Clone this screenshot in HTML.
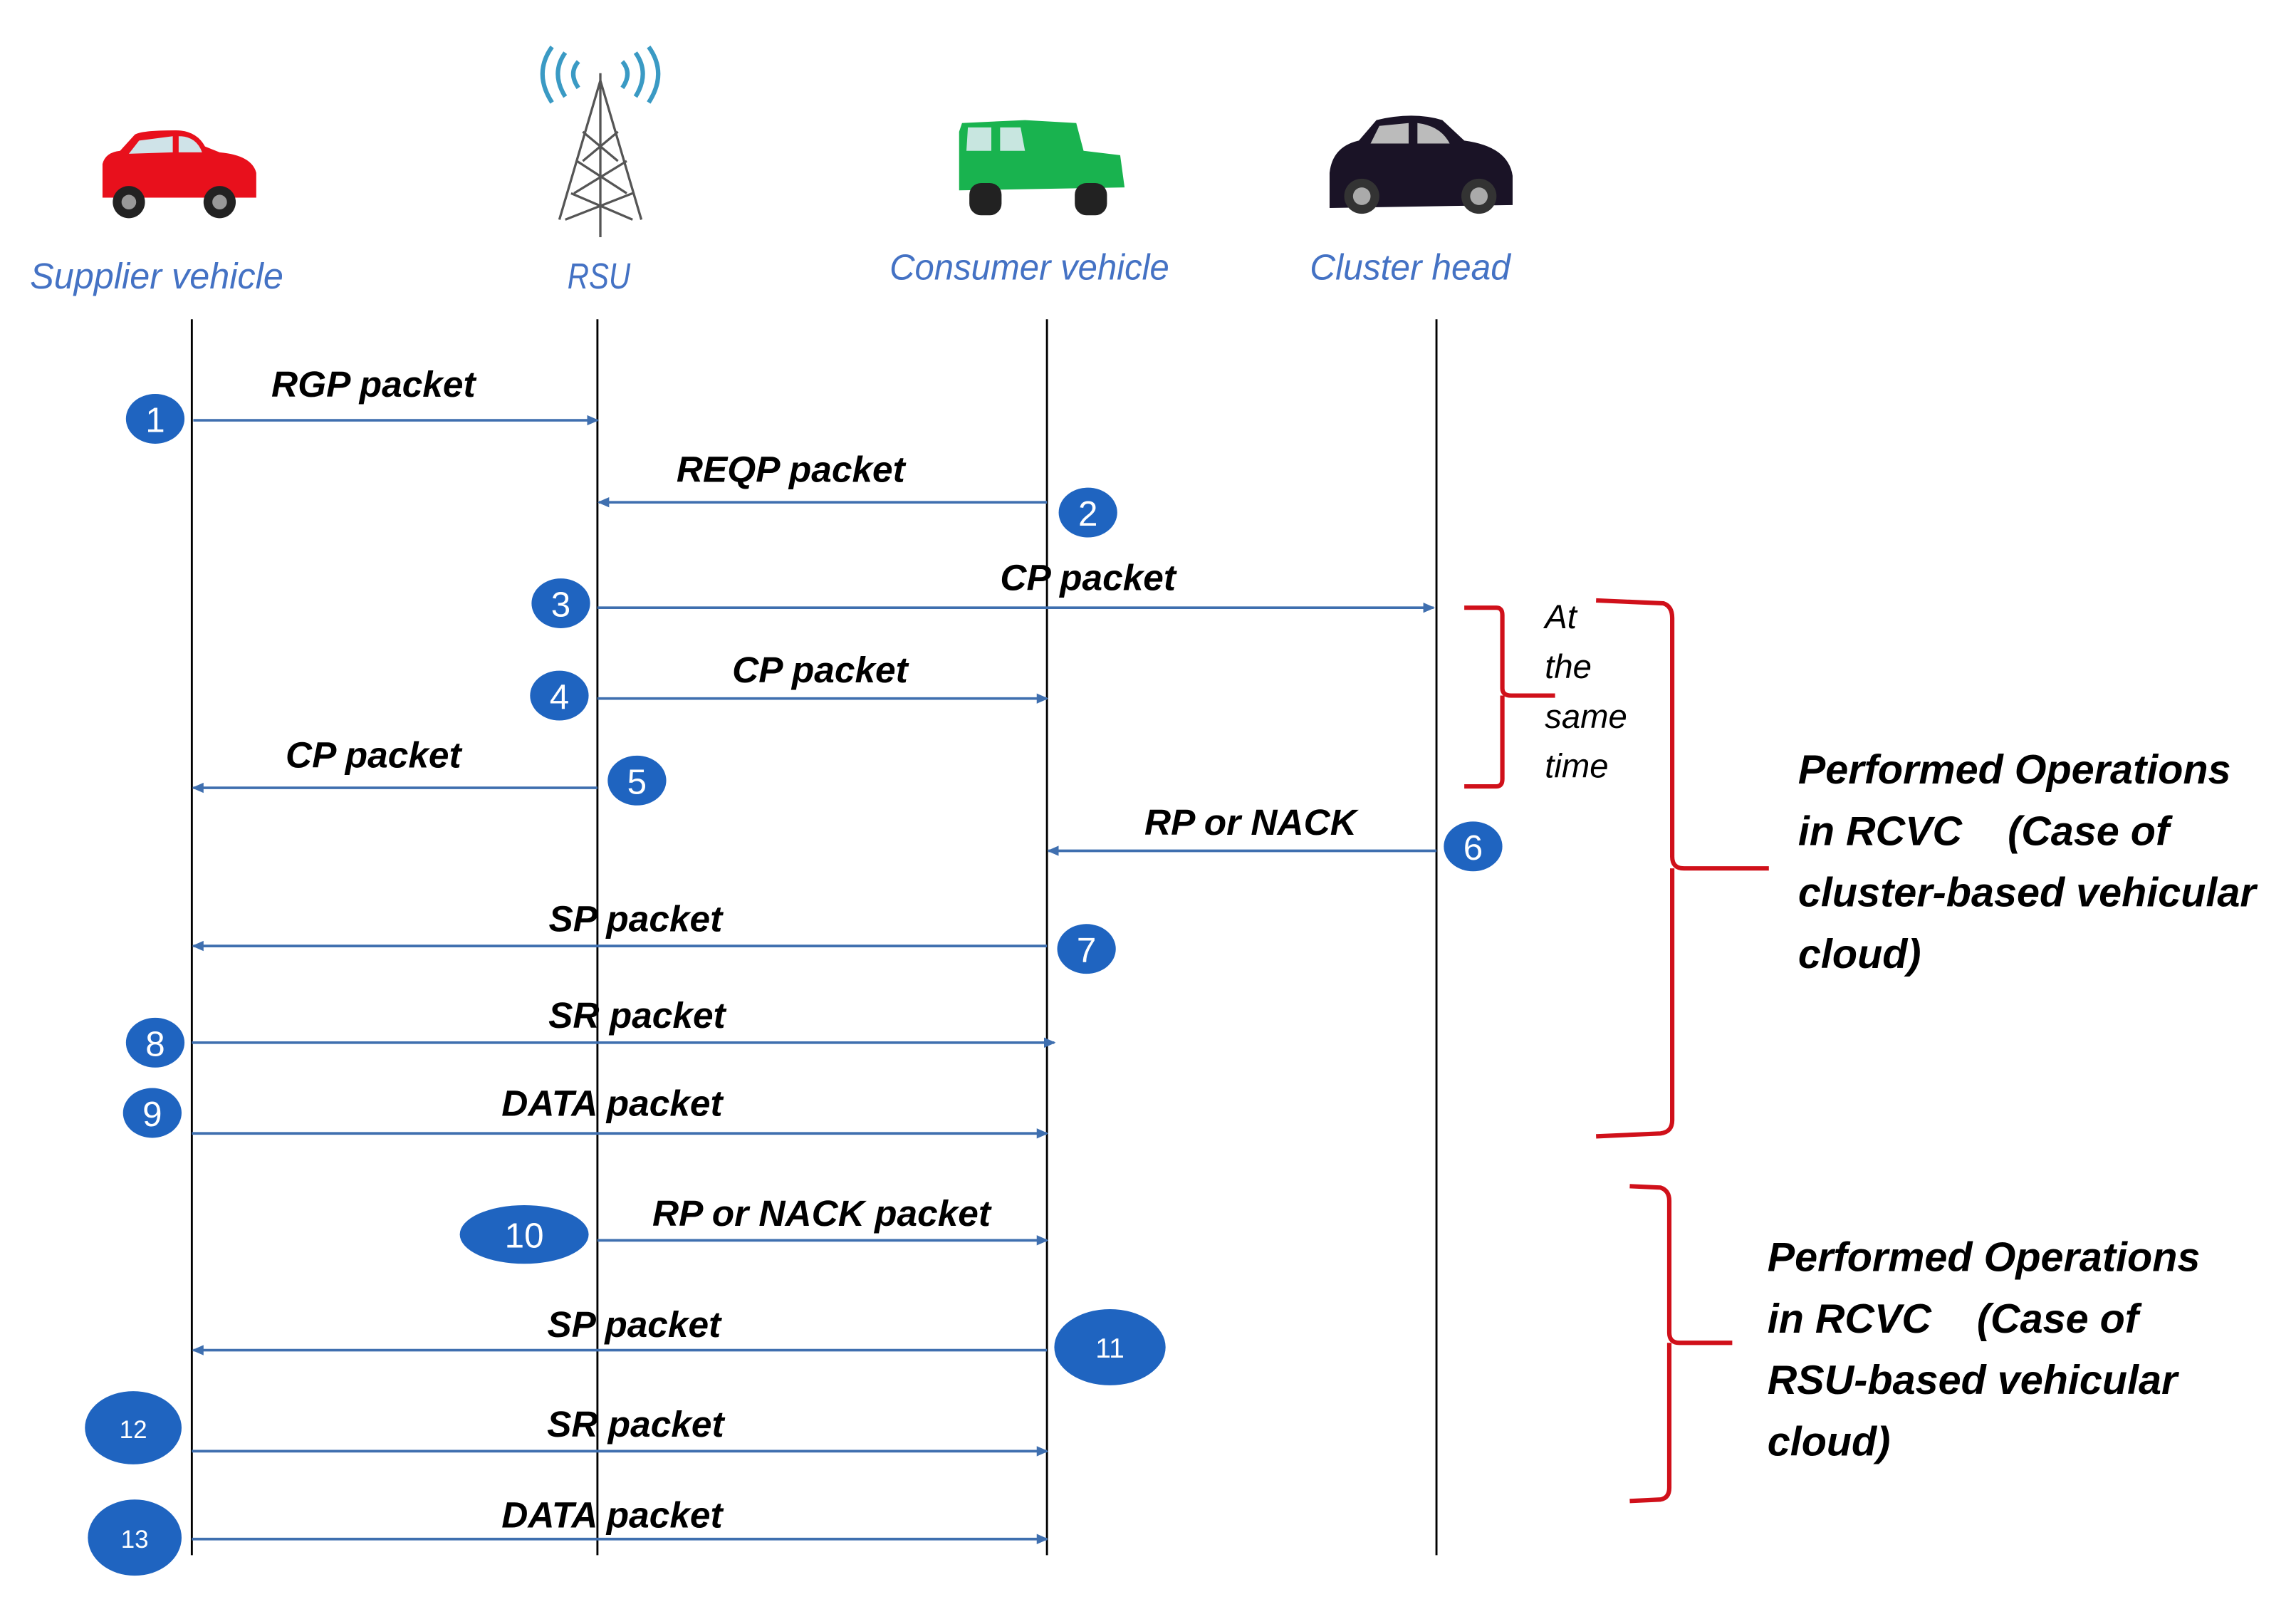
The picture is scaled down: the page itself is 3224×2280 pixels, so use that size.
<!DOCTYPE html>
<html><head><meta charset="utf-8"><style>
html,body{margin:0;padding:0;background:#fff;}
#w{width:3224px;height:2280px;overflow:hidden;position:relative;}
svg{position:absolute;left:0;top:0;}
text{font-family:"Liberation Sans Narrow","Liberation Sans",sans-serif;}
</style></head><body><div id="w">
<svg width="3224" height="2280" viewBox="0 0 1568 1109" preserveAspectRatio="none">
<defs>
<marker id="a" markerWidth="8" markerHeight="8" refX="7" refY="4" orient="auto" markerUnits="userSpaceOnUse"><path d="M0,0.5 L8,4 L0,7.5z" fill="#3f6faf"/></marker>
</defs>
<g>
<path d="M70,130 L70,112 Q72,104 82,103 L92,92 Q96,89 120,89 Q134,89 140,100 L150,104 Q172,106 175,118 L175,135 L70,135z" fill="#e8101c"/>
<path d="M95,96 L118,93 L118,104 L88,105z M122,93 Q134,93 138,104 L122,104z" fill="#cfe3e8"/>
<circle cx="88" cy="138" r="11" fill="#222"/><circle cx="88" cy="138" r="5" fill="#999"/>
<circle cx="150" cy="138" r="11" fill="#222"/><circle cx="150" cy="138" r="5" fill="#999"/>
</g>
<g stroke="#555" stroke-width="1.6" fill="none">
<path d="M410,50 L410,162 M410,55 L382,150 M410,55 L438,150 M398,90 L422,110 M422,90 L398,110 M394,110 L428,132 M428,110 L392,132 M390,132 L432,150 M432,132 L386,150"/>
</g>
<g stroke="#3a9ac4" stroke-width="3" fill="none">
<path d="M395,42 Q388,50 395,60 M386,36 Q376,50 386,66 M377,32 Q364,50 377,70"/>
<path d="M425,42 Q432,50 425,60 M434,36 Q444,50 434,66 M443,32 Q456,50 443,70"/>
</g>
<g>
<path d="M655,90 L657,84 L700,82 L735,84 L740,103 L765,106 L768,128 L655,130z" fill="#19b34f"/>
<path d="M661,87 L677,87 L677,103 L660,103z M683,87 L697,87 L700,103 L683,103z" fill="#c8e6e0"/>
<rect x="662" y="125" width="22" height="22" rx="8" fill="#222"/><rect x="734" y="125" width="22" height="22" rx="8" fill="#222"/>
</g>
<g>
<path d="M908,118 Q910,100 928,96 L940,82 Q965,76 985,82 L1000,96 Q1030,100 1033,120 L1033,140 L908,142z" fill="#1a1326"/>
<path d="M942,86 L962,84 L962,98 L936,98z M968,84 Q984,86 990,98 L968,98z" fill="#bbb"/>
<circle cx="930" cy="134" r="12" fill="#333"/><circle cx="930" cy="134" r="6" fill="#aaa"/>
<circle cx="1010" cy="134" r="12" fill="#333"/><circle cx="1010" cy="134" r="6" fill="#aaa"/>
</g>
<g fill="#4472c4" font-style="italic" font-size="25" text-anchor="middle">
<text x="107" y="197" textLength="173" lengthAdjust="spacingAndGlyphs">Supplier vehicle</text>
<text x="409" y="197" textLength="43" lengthAdjust="spacingAndGlyphs">RSU</text>
<text x="703" y="191" textLength="191" lengthAdjust="spacingAndGlyphs">Consumer vehicle</text>
<text x="963" y="191" textLength="137" lengthAdjust="spacingAndGlyphs">Cluster head</text>
</g>
<g stroke="#000" stroke-width="1.4">
<line x1="131" y1="218" x2="131" y2="1062"/><line x1="408" y1="218" x2="408" y2="1062"/>
<line x1="715" y1="218" x2="715" y2="1062"/><line x1="981" y1="218" x2="981" y2="1062"/>
</g>
<g stroke="#3f6faf" stroke-width="1.8" marker-end="url(#a)">
<line x1="132" y1="287" x2="408" y2="287"/>
<line x1="715" y1="343" x2="409" y2="343"/>
<line x1="408" y1="415" x2="979" y2="415"/>
<line x1="408" y1="477" x2="715" y2="477"/>
<line x1="408" y1="538" x2="132" y2="538"/>
<line x1="981" y1="581" x2="716" y2="581"/>
<line x1="715" y1="646" x2="132" y2="646"/>
<line x1="131" y1="712" x2="720" y2="712"/>
<line x1="131" y1="774" x2="715" y2="774"/>
<line x1="408" y1="847" x2="715" y2="847"/>
<line x1="715" y1="922" x2="132" y2="922"/>
<line x1="131" y1="991" x2="715" y2="991"/>
<line x1="131" y1="1051" x2="715" y2="1051"/>
</g>
<g font-style="italic" font-weight="bold" font-size="25" text-anchor="middle" fill="#000">
<text x="255" y="271">RGP packet</text>
<text x="540" y="329">REQP packet</text>
<text x="743" y="403">CP packet</text>
<text x="560" y="466">CP packet</text>
<text x="255" y="524">CP packet</text>
<text x="854" y="570">RP or NACK</text>
<text x="434" y="636">SP packet</text>
<text x="435" y="702">SR packet</text>
<text x="418" y="762">DATA packet</text>
<text x="561" y="837">RP or NACK packet</text>
<text x="433" y="913">SP packet</text>
<text x="434" y="981">SR packet</text>
<text x="418" y="1043">DATA packet</text>
</g>
<g fill="#1f64c0">
<ellipse cx="106" cy="286" rx="20" ry="17"/><ellipse cx="743" cy="350" rx="20" ry="17"/>
<ellipse cx="383" cy="412" rx="20" ry="17"/><ellipse cx="382" cy="475" rx="20" ry="17"/>
<ellipse cx="435" cy="533" rx="20" ry="17"/><ellipse cx="1006" cy="578" rx="20" ry="17"/>
<ellipse cx="742" cy="648" rx="20" ry="17"/><ellipse cx="106" cy="712" rx="20" ry="17"/>
<ellipse cx="104" cy="760" rx="20" ry="17"/>
<ellipse cx="358" cy="843" rx="44" ry="20"/><ellipse cx="758" cy="920" rx="38" ry="26"/>
<ellipse cx="91" cy="975" rx="33" ry="25"/><ellipse cx="92" cy="1050" rx="32" ry="26"/>
</g>
<g fill="#fff" font-size="24" text-anchor="middle">
<text x="106" y="295">1</text><text x="743" y="359">2</text><text x="383" y="421">3</text>
<text x="382" y="484">4</text><text x="435" y="542">5</text><text x="1006" y="587">6</text>
<text x="742" y="657">7</text><text x="106" y="721">8</text><text x="104" y="769">9</text>
<text x="358" y="852">10</text>
<text x="758" y="927" font-size="19">11</text><text x="91" y="982" font-size="17">12</text><text x="92" y="1057" font-size="17">13</text>
</g>
<g stroke="#d0101a" stroke-width="3" fill="none">
<path d="M1000,415 L1022,415 Q1026,415 1026,420 L1026,470 Q1026,475 1032,475 L1062,475 M1026,475 Q1026,480 1026,485 L1026,532 Q1026,537 1022,537 L1000,537"/>
<path d="M1090,410 L1136,412 Q1142,414 1142,422 L1142,585 Q1142,593 1150,593 L1208,593 M1142,593 Q1142,601 1142,608 L1142,765 Q1142,773 1134,774 L1090,776"/>
<path d="M1113,810 L1134,811 Q1140,813 1140,820 L1140,910 Q1140,917 1147,917 L1183,917 M1140,917 Q1140,924 1140,930 L1140,1016 Q1140,1023 1134,1024 L1113,1025"/>
</g>
<g font-style="italic" font-size="23" fill="#000">
<text x="1055" y="429">At</text><text x="1055" y="463">the</text><text x="1055" y="497">same</text><text x="1055" y="531">time</text>
</g>
<g font-style="italic" font-weight="bold" font-size="28" fill="#000">
<text x="1228" y="535">Performed Operations</text>
<text x="1228" y="577" xml:space="preserve">in RCVC    (Case of</text>
<text x="1228" y="619">cluster-based vehicular</text>
<text x="1228" y="661">cloud)</text>
<text x="1207" y="868">Performed Operations</text>
<text x="1207" y="910" xml:space="preserve">in RCVC    (Case of</text>
<text x="1207" y="952">RSU-based vehicular</text>
<text x="1207" y="994">cloud)</text>
</g>
</svg>
</div></body></html>
